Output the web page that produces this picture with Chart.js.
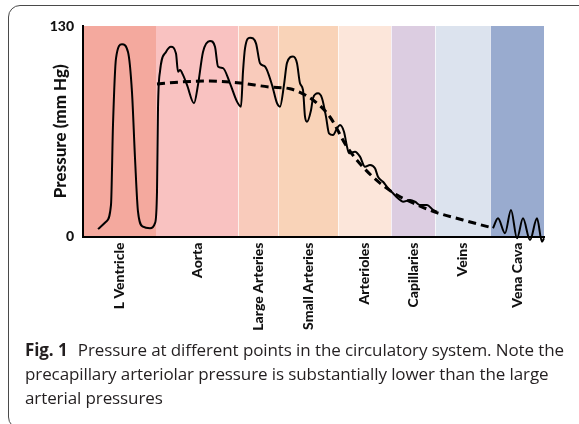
<!DOCTYPE html>
<html lang="en">
<head>
    <meta charset="UTF-8">
    <title>Pressure in the circulatory system</title>
    <script src="https://cdn.jsdelivr.net/npm/chart.js@4.4.0/dist/chart.umd.min.js"></script>
    <style>
        body { margin: 0; background: #fff; width: 579px; height: 424px; overflow: hidden; position: relative; }
        .frame { position: absolute; left: 8px; top: 5px; width: 640px; height: 424px; border: 1.5px solid #4a4a4a; border-radius: 12px; box-sizing: border-box; }
        #chart { position: absolute; left: 0; top: 0; }
        .caption { position: absolute; left: 25px; top: 338px; width: 552px; font: 17px "Open Sans", sans-serif; line-height: 24px; color: #231f20; letter-spacing: -0.1px; }
        .caption b { font-weight: 700; margin-right: 6px; }
    </style>
</head>
<body>
<div class="frame"></div>
<canvas id="chart" width="579" height="340"></canvas>
<div class="caption"><b>Fig. 1</b> Pressure at different points in the circulatory system. Note the precapillary arteriolar pressure is substantially lower than the large arterial pressures</div>
<script>
    // vessel segments along the circulation (arbitrary distance units)
    const bandNames = ['L Ventricle', 'Aorta', 'Large Arteries', 'Small Arteries', 'Arterioles', 'Capillaries', 'Veins', 'Vena Cava'];
    const bandEdges = [0, 73, 155, 195, 255, 308, 352, 407, 461];
    const bandColors = ['#f4a99e', '#f9c2c1', '#f9cbbb', '#f9d3b8', '#fce6da', '#dccde1', '#dce3ee', '#99abcf'];
    const yTicks = [0, 130];

    // pulsatile pressure, ventricle to capillaries (mm Hg)
    const pulseX = [15, 23, 28, 30, 33, 39, 45, 49, 52, 55, 60, 67, 72, 74, 75, 77, 83, 88, 93, 95, 97, 100, 104, 111,
        115, 120, 127, 132, 135, 140, 147, 154, 158, 160, 162, 167, 173, 177, 182, 189, 194, 197, 201, 204, 210,
        214, 217, 220, 222, 224, 228, 230, 235, 239, 243, 246, 250, 254, 257, 261, 264, 266, 272, 277, 282, 287,
        292, 295, 300, 304, 310, 315, 320, 327, 332, 337, 344, 350, 354];
    const pulseY = [4.6, 9.1, 19.5, 69, 110, 118.7, 114, 89, 48.5, 15.3, 6.1, 5.1, 8.3, 27.7, 79, 102, 114, 117.2, 113,
        101.8, 102.8, 99.8, 93.6, 82.3, 93.6, 114, 120.8, 117.2, 105, 104, 94.6, 83.3, 80.2, 101.8, 116.2, 122.8,
        119.3, 107, 105, 93.6, 82.3, 80.2, 93.6, 107.2, 111.1, 107, 94.6, 90.5, 74, 70.9, 78, 85.4, 88.4, 85.4, 74,
        63.7, 62.7, 66.8, 68.9, 64.7, 55.5, 51.4, 52.4, 49.3, 43.1, 44.2, 42.1, 36.9, 33.8, 30.7, 26.7, 23.6, 21.5,
        22.5, 21.5, 19.5, 19.5, 16.4, 15.3];

    // mean arterial pressure (dashed)
    const meanX = [74, 97, 127, 157, 187, 207, 230, 247, 264, 280, 297, 314, 330, 352, 380, 410];
    const meanY = [94.2, 95.4, 96, 94.8, 92.3, 91.2, 84.3, 73.8, 55.3, 42.9, 33, 25.6, 20.7, 15.1, 10.2, 5.2];

    // venous pulse in the vena cava
    const venaX = [410, 415, 422, 428, 434, 440, 447, 454, 459, 461];
    const venaY = [5.1, 11.2, 2, 16.4, -1.1, 11.2, -2.2, 11.2, -3.2, -1.1];

    const zip = (xs, ys) => xs.map((x, i) => ({ x: x, y: ys[i] }));
    const bandCenters = bandNames.map((n, i) => (bandEdges[i] + bandEdges[i + 1]) / 2);

    const bands = {
        id: 'bands',
        beforeDraw(chart) {
            const { ctx, chartArea: { top, bottom }, scales: { x } } = chart;
            ctx.save();
            bandColors.forEach((c, i) => {
                const x0 = x.getPixelForValue(bandEdges[i]);
                const x1 = x.getPixelForValue(bandEdges[i + 1]);
                ctx.fillStyle = c;
                ctx.fillRect(x0, top, x1 - x0, bottom - top);
            });
            ctx.strokeStyle = 'rgba(255,255,255,0.7)';
            ctx.lineWidth = 1;
            for (let i = 2; i < bandEdges.length - 1; i++) {
                const px = Math.round(x.getPixelForValue(bandEdges[i])) + 0.5;
                ctx.beginPath();
                ctx.moveTo(px, top);
                ctx.lineTo(px, bottom);
                ctx.stroke();
            }
            ctx.restore();
        }
    };

    const line = { borderColor: '#000', pointRadius: 0, fill: false, cubicInterpolationMode: 'monotone' };
    const tickFont = { family: 'Lato', weight: 900, size: 14 };

    new Chart(document.getElementById('chart').getContext('2d'), {
        type: 'line',
        data: {
            datasets: [
                Object.assign({ data: zip(pulseX, pulseY), borderWidth: 2 }, line),
                Object.assign({ data: zip(meanX, meanY), borderWidth: 3, borderDash: [8, 5] }, line),
                Object.assign({ data: zip(venaX, venaY), borderWidth: 2, clip: false }, line)
            ]
        },
        options: {
            responsive: false,
            animation: false,
            layout: { padding: { top: 26, right: 35, left: 0, bottom: 0 } },
            plugins: { legend: { display: false }, tooltip: { enabled: false } },
            scales: {
                x: {
                    type: 'linear',
                    min: bandEdges[0],
                    max: bandEdges[bandEdges.length - 1],
                    grid: { display: false, drawTicks: false },
                    border: { display: true, color: '#000', width: 2 },
                    afterBuildTicks: s => { s.ticks = bandCenters.map(v => ({ value: v })); },
                    afterFit: s => { s.height = 103.5; },
                    ticks: {
                        autoSkip: false,
                        minRotation: 90,
                        maxRotation: 90,
                        padding: 6,
                        color: '#111',
                        font: tickFont,
                        callback: (v, i) => bandNames[i]
                    }
                },
                y: {
                    min: 0,
                    max: 130,
                    grid: { display: false, drawTicks: false },
                    border: { display: true, color: '#000', width: 2 },
                    afterBuildTicks: s => { s.ticks = yTicks.map(v => ({ value: v })); },
                    afterFit: s => { s.width = 83; },
                    ticks: {
                        padding: 9,
                        color: '#111',
                        font: tickFont
                    },
                    title: {
                        display: true,
                        text: 'Pressure (mm Hg)',
                        color: '#111',
                        font: { family: 'Lato', weight: 900, size: 17 },
                        padding: { top: 50, bottom: 0 }
                    }
                }
            }
        },
        plugins: [bands]
    });
</script>
</body>
</html>
